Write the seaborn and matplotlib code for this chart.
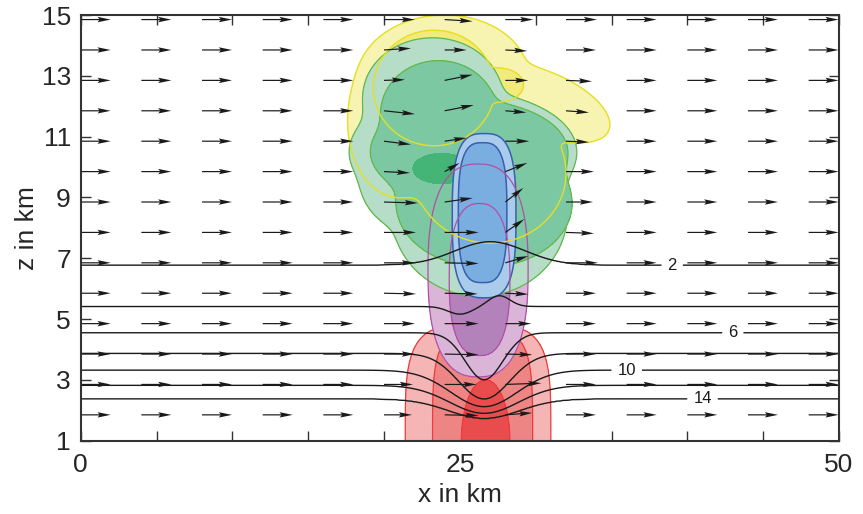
import numpy as np
import matplotlib
matplotlib.use("Agg")
import matplotlib.pyplot as plt
import seaborn as sns

# ---------------- data ----------------
x_limits = [0, 50]
z_limits = [1, 15]
x_tick_labels = [0, 25, 50]
x_minor_ticks = [0, 5, 10, 15, 20, 25, 30, 35, 40, 45, 50]
z_tick_labels = [1, 3, 5, 7, 9, 11, 13, 15]

# black isolines: far-field heights and the storm perturbations of each level
theta_levels = [2, 4, 6, 8, 10, 12, 14]
theta_far_z = [6.77, 5.41, 4.55, 3.87, 3.32, 2.82, 2.38]
theta_dip = [-0.77, 0.25, 1.55, 1.5, 1.2, 0.92, 0.64]
theta_dip_x = [27.0, 25.0, 26.6, 26.6, 26.6, 26.6, 26.6]
theta_dip_w = [3.3, 1.1, 1.75, 2.4, 3.1, 3.2, 3.3]
theta_bump = [0.0, 0.36, 0.0, 0.0, 0.0, 0.0, 0.0]
theta_bump_x = [27.6, 27.6, 27.6, 27.6, 27.6, 27.6, 27.6]
theta_bump_w = [1.0, 1.0, 1.0, 1.0, 1.0, 1.0, 1.0]
theta_label_levels = [2, 6, 10, 14]
theta_label_x = [39.0, 43.0, 36.0, 41.0]

# shaded regions: (x centre, z centre, half width, half height, exponent, shear)
snow_outer = [(24.0, 13.0, 5.5, 2.0, 2, 0.0), (30.6, 12.1, 3.6, 1.3, 2, -1.8),
              (21.0, 11.5, 3.4, 2.5, 2, 0.0), (27.0, 9.8, 5.0, 2.3, 2, 0.0)]
snow_inner = [(23.3, 12.6, 4.0, 1.9, 2, 0.0), (27.6, 12.7, 1.6, 0.55, 2, 0.0)]
ice_outer = [(26.3, 8.5, 5.8, 2.75, 2, 0.0), (25.2, 10.5, 7.5, 2.0, 2, 0.0),
             (23.2, 12.3, 4.6, 1.95, 2, 0.0), (21.5, 9.5, 3.0, 1.5, 2, 0.0)]
ice_mid = [(26.6, 8.8, 5.8, 2.1, 2, 0.0), (25.6, 10.5, 6.5, 1.7, 2, 0.0),
           (23.6, 11.8, 3.8, 1.7, 2, 0.0)]
ice_core = [(23.8, 9.95, 1.9, 0.5, 2, 0.0)]
graupel_outer = [(26.6, 8.4, 2.1, 2.7, 3, 0.0)]
graupel_inner = [(26.5, 8.5, 1.6, 2.3, 3, 0.0)]
cloud_outer = [(26.2, 6.6, 3.3, 3.5, 2.5, 0.0)]
cloud_inner = [(26.3, 6.3, 2.0, 2.5, 2.5, 0.0)]
rain_outer = [(26.2, 1.0, 4.8, 3.8, 4, 0.0)]
rain_mid = [(26.5, 1.0, 3.3, 3.6, 4, 0.0)]
rain_core = [(26.7, 1.0, 1.6, 2.0, 2, 0.0)]

# wind arrows (arrow components in pixels)
wind_x = [0, 4, 8, 12, 16, 20, 24, 28, 32, 36, 40, 44, 48]
wind_z = [14.85, 13.85, 12.85, 11.85, 10.85, 9.85, 8.85, 7.85,
          6.85, 5.85, 4.85, 3.85, 2.85, 1.85]
wind_u_background = 30.0
storm_columns = [20, 24, 28, 32]
u_col20 = [31, 27, 21, 31, 27, 26, 34, 32, 31, 32, 31, 31, 29, 28]
w_col20 = [0, 1.7, 0.7, -3.3, -3.3, -1.3, -1, 0, 0, -0.7, 0, 0, 0, 0]
u_col24 = [28, 22, 28, 29, 22, 15, 28, 34, 34, 33, 34, 34, 32, 34]
w_col24 = [-1.7, 0, 5.7, 5.7, 3.3, 8.7, 4, 0, -0.7, -0.7, 0, -0.7, 0, -0.7]
u_col28 = [28, 22, 23, 21, 24, 22, 18, 19, 23, 23, 26, 27, 36, 27]
w_col28 = [0, -1, 0, -1.7, 0, 8.7, 14, 13.3, 6.7, -1, 0, -0.7, 1.3, 2]
u_col32 = [31, 30, 26, 23, 23, 28, 27, 28, 32, 30, 30, 30, 30, 30]
w_col32 = [0, 0, -1, -1.7, -1, 0, 0, -1, 0, 0, 0, 0, 0, 0]

# ---------------- figure ----------------
sns.set_theme(style="ticks")
plt.rcParams["font.family"] = ["Liberation Sans", "DejaVu Sans"]

fig = plt.figure(figsize=(8.63, 5.14), dpi=100)
ax = fig.add_axes([0.0935, 0.1426, 0.8787, 0.8282])

xg = np.linspace(0, 50, 801)
zg = np.linspace(1, 15, 561)
X, Z = np.meshgrid(xg, zg)


def region_field(shapes, k=0.18):
    acc = np.zeros(X.shape)
    for xc, zc, a, b, p, s in shapes:
        dx = X - xc - s * (Z - zc)
        d = (np.abs(dx) / a) ** p + (np.abs(Z - zc) / b) ** p
        acc += np.exp(-np.minimum(d, 40.0) / k)
    dsoft = -k * np.log(acc + 1e-300)
    return 1.0 - dsoft


def fill(shapes, color, zorder):
    F = region_field(shapes)
    ax.contourf(X, Z, F, levels=[0, 50], colors=[color], zorder=zorder)
    return F


def edge(F, color, zorder, lw=0.9):
    ax.contour(X, Z, F, levels=[0], colors=[color], linewidths=lw, zorder=zorder)


red_edge = "#ee3b3b"
F = fill(rain_outer, "#f5b5b5", 1); edge(F, red_edge, 1.1)
F = fill(rain_mid, "#ee8585", 1.2); edge(F, red_edge, 1.3)
F = fill(rain_core, "#e84c4c", 1.4); edge(F, red_edge, 1.5)

Fc1 = fill(cloud_outer, "#dab5d8", 2)
Fc2 = fill(cloud_inner, "#b382ba", 2.2)

Fs1 = fill(snow_outer, "#f7f3b0", 3)
Fs2 = fill(snow_inner, "#f2ea7a", 3.2)

green_edge = "#62b84a"
F = fill(ice_outer, "#b6ddc8", 4); edge(F, green_edge, 4.1)
F = fill(ice_mid, "#7cc8a2", 4.2); edge(F, green_edge, 4.3)
F = fill(ice_core, "#45b577", 4.4)

blue_edge = "#3a5fad"
F = fill(graupel_outer, "#a9cbec", 5); edge(F, blue_edge, 5.1, 1.1)
F = fill(graupel_inner, "#7aaee0", 5.2); edge(F, blue_edge, 5.3, 1.1)

edge(Fc1, "#b14fa6", 6)
edge(Fc2, "#b14fa6", 6)
edge(Fs1, "#e6df22", 6.5, 1.0)
edge(Fs2, "#e6df22", 6.5, 1.0)

# black isolines built from the level heights and perturbations
TH = np.empty(X.shape)
levels_arr = np.array(theta_levels, dtype=float)
for j, xv in enumerate(xg):
    zk = np.array([h - dp * np.exp(-((xv - xc) / w) ** 2) + bp * np.exp(-((xv - bx) / bw) ** 2)
                   for h, dp, xc, w, bp, bx, bw in zip(theta_far_z, theta_dip, theta_dip_x,
                                                       theta_dip_w, theta_bump, theta_bump_x,
                                                       theta_bump_w)])
    order = np.argsort(zk)
    zz = np.concatenate([[0.0], zk[order], [16.0]])
    vv = np.concatenate([[16.0], levels_arr[order], [-2.0]])
    TH[:, j] = np.interp(zg, zz, vv)

plain_levels = [lv for lv in theta_levels if lv not in theta_label_levels]
ax.contour(X, Z, TH, levels=plain_levels, colors="#1a1a1a", linewidths=1.0, zorder=7)
cs = ax.contour(X, Z, TH, levels=theta_label_levels, colors="#1a1a1a",
                linewidths=1.0, zorder=7)
label_pos = [(lx, theta_far_z[theta_levels.index(lv)])
             for lx, lv in zip(theta_label_x, theta_label_levels)]
ax.clabel(cs, manual=label_pos, fmt="%d", fontsize=12, inline=True,
          inline_spacing=6, colors="#1a1a1a")

# wind arrows
WX, WZ = np.meshgrid(wind_x, wind_z)
U = np.full(WX.shape, wind_u_background)
W = np.zeros(WX.shape)
for col, uu, ww in zip(storm_columns, [u_col20, u_col24, u_col28, u_col32],
                       [w_col20, w_col24, w_col28, w_col32]):
    j = wind_x.index(col)
    U[:, j] = uu
    W[:, j] = ww
ax.quiver(WX, WZ, U, W, angles="uv", units="dots", scale_units="dots", scale=1.0,
          pivot="tail", width=1.2, headwidth=4.5, headlength=11, headaxislength=9.5,
          color="#1a1a1a", zorder=8)

ax.set_xlim(*x_limits)
ax.set_ylim(*z_limits)
ax.set_xticks(x_tick_labels)
ax.set_xticks(x_minor_ticks, minor=True)
ax.set_yticks(z_tick_labels)
ax.tick_params(which="both", direction="in", length=7, width=1.0, color="#333333",
               top=True, right=True, labelsize=19)
ax.tick_params(axis="x", which="both", pad=9)
ax.tick_params(axis="y", which="both", pad=7)
for s in ax.spines.values():
    s.set_linewidth(1.5)
    s.set_color("#333333")
    s.set_zorder(10)
ax.set_xlabel("x in km", fontsize=19, labelpad=4)
ax.set_ylabel("z in km", fontsize=19, labelpad=2)

fig.savefig("out.png", dpi=100)
